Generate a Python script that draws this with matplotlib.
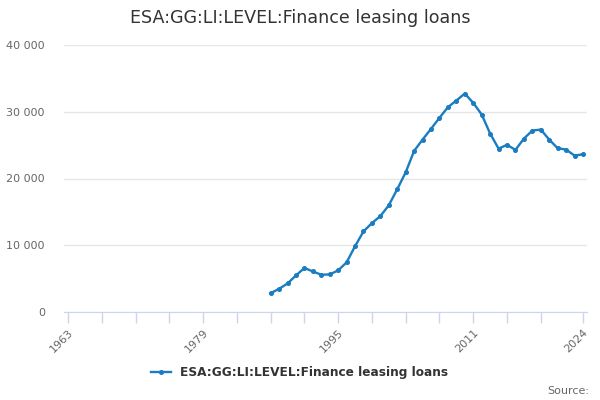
import matplotlib
matplotlib.use("Agg")
import matplotlib.pyplot as plt
from matplotlib.ticker import FuncFormatter, FixedLocator

years = list(range(1987, 2025))
values = [2820, 3470, 4270, 5480, 6590, 6080, 5580, 5630, 6230, 7440,
          9850, 12070, 13320, 14370, 15990, 18400, 20930, 24140, 25830, 27440,
          29090, 30680, 31680, 32730, 31330, 29580, 26730, 24480, 25040, 24290,
          25980, 27180, 27330, 25830, 24530, 24330, 23430, 23630]
tick_labels = [1963, 1979, 1995, 2011, 2024]
minor_ticks = list(range(1963, 2020, 4)) + [2024]
y_ticks = [0, 10000, 20000, 30000, 40000]
title = "ESA:GG:LI:LEVEL:Finance leasing loans"
series_name = "ESA:GG:LI:LEVEL:Finance leasing loans"

plt.rcParams['font.family'] = ['DejaVu Sans']
fig = plt.figure(figsize=(6, 4), dpi=100)
ax = fig.add_axes([0.107, 0.22, 0.871, 0.6675])

color = '#1a7cc1'
ax.plot(years, values, color=color, lw=1.7, marker='o', ms=2.6, label=series_name)

ax.set_xlim(1962.55, 2024.45)
ax.set_ylim(0, 40000)
ax.set_yticks(y_ticks)
ax.yaxis.set_major_formatter(FuncFormatter(lambda v, p: f"{int(v):,}".replace(",", " ")))
ax.grid(axis='y', color='#e6e6e6', lw=1)
ax.set_axisbelow(True)

ax.xaxis.set_major_locator(FixedLocator(minor_ticks))
ax.set_xticklabels([str(t) if t in tick_labels else "" for t in minor_ticks],
                   rotation=45, ha='right', rotation_mode='anchor', color='#666666', fontsize=8)
ax.tick_params(axis='x', length=8, color='#ccd6eb', width=1, pad=3)
ax.tick_params(axis='y', length=0, colors='#666666', labelsize=8, pad=14)

for s in ['top', 'right', 'left']:
    ax.spines[s].set_visible(False)
ax.spines['bottom'].set_color('#ccd6eb')

fig.text(0.5, 0.955, title, ha='center', va='center', fontsize=12.6, color='#333333')
leg = fig.legend(loc='center', bbox_to_anchor=(0.5, 0.068), frameon=False,
                 prop={'weight': 'bold', 'size': 8.7}, handlelength=1.6, labelcolor='#333333')
fig.text(0.982, 0.022, "Source:", ha='right', va='center', fontsize=8, color='#666666')

fig.savefig("out.png", dpi=100)
